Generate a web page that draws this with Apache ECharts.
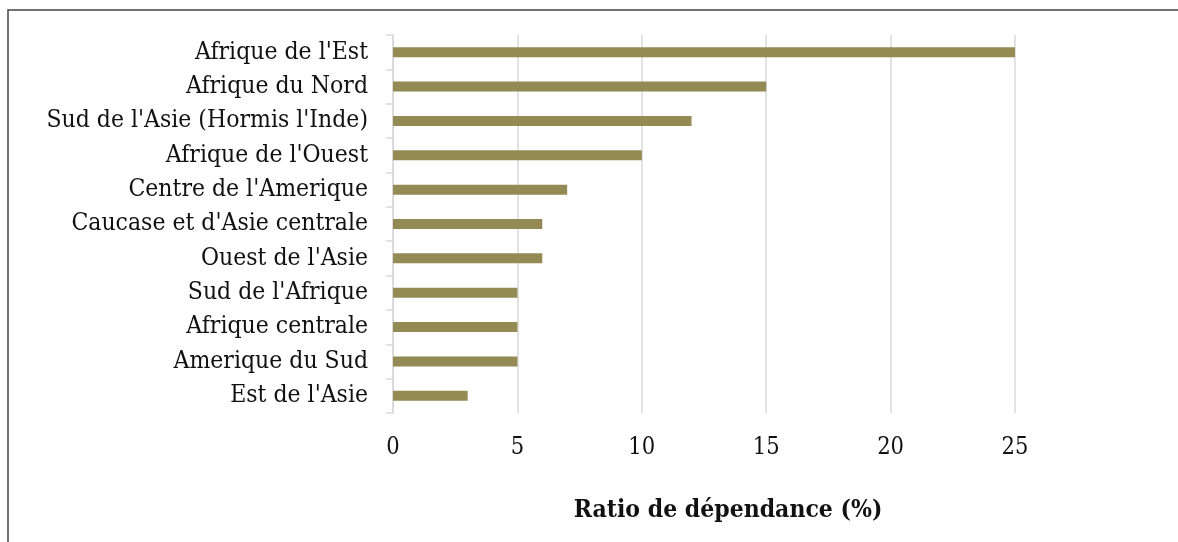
<!DOCTYPE html>
<html>
<head>
<meta charset="utf-8">
<script src="https://cdn.jsdelivr.net/npm/echarts@6/dist/echarts.min.js"></script>
<style>
  html, body { margin: 0; padding: 0; background: #fff; }
  #chart { width: 1178px; height: 542px; }
</style>
</head>
<body>
<div id="chart"></div>
<script>
const regions = [
  "Afrique de l'Est",
  "Afrique du Nord",
  "Sud de l'Asie (Hormis l'Inde)",
  "Afrique de l'Ouest",
  "Centre de l'Amerique",
  "Caucase et d'Asie centrale",
  "Ouest de l'Asie",
  "Sud de l'Afrique",
  "Afrique centrale",
  "Amerique du Sud",
  "Est de l'Asie"
];
const ratios = [25, 15, 12, 10, 7, 6, 6, 5, 5, 5, 3];

const serif = "'DejaVu Serif Condensed', 'DejaVu Serif', serif";

const chart = echarts.init(document.getElementById('chart'), null, { renderer: 'canvas' });

chart.setOption({
  animation: false,
  backgroundColor: '#fff',
  graphic: [{
    type: 'rect',
    shape: { x: 8, y: 10, width: 1300, height: 700 },
    style: { fill: 'none', stroke: '#444', lineWidth: 1.5 },
    silent: true
  }],
  grid: { left: 393, right: 163, top: 35, bottom: 129 },
  xAxis: {
    type: 'value',
    min: 0,
    max: 25,
    interval: 5,
    axisLine: { show: false },
    axisTick: { show: false },
    splitLine: { lineStyle: { color: '#d9d9d9', width: 1.5 } },
    axisLabel: { color: '#111', fontFamily: serif, fontSize: 23.5, margin: 23 },
    name: 'Ratio de dépendance (%)',
    nameLocation: 'middle',
    nameGap: 85,
    nameTextStyle: {
      color: '#111', fontFamily: serif, fontSize: 24.5, fontWeight: 'bold',
      padding: [0, 0, 0, 48]
    }
  },
  yAxis: {
    type: 'category',
    inverse: true,
    data: regions,
    axisLine: { show: true, lineStyle: { color: '#d9d9d9', width: 1.5 } },
    axisTick: { show: true, length: 7, lineStyle: { color: '#d9d9d9', width: 1.5 } },
    axisLabel: { color: '#111', fontFamily: serif, fontSize: 24.5, margin: 25 }
  },
  series: [{
    type: 'bar',
    data: ratios,
    barWidth: 10,
    itemStyle: { color: '#948a54' }
  }]
});
</script>
</body>
</html>
